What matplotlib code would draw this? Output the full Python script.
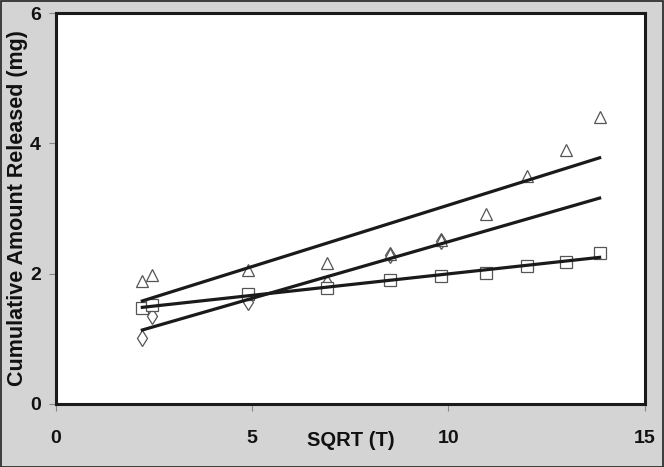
import numpy as np
import matplotlib.pyplot as plt
from matplotlib.patches import Rectangle

# sqrt(time) sampling points
sqrt_t = [2.2, 2.45, 4.9, 6.9, 8.5, 9.8, 10.95, 12.0, 13.0, 13.85]

# cumulative amount released (mg)
triangles = [1.88, 1.98, 2.06, 2.16, 2.30, 2.52, 2.91, 3.50, 3.90, 4.40]
squares = [1.47, 1.52, 1.69, 1.78, 1.90, 1.96, 2.01, 2.12, 2.18, 2.32]
# only the first points of this series are visible, the rest sit under other marks
diamond_t = [2.2, 2.45, 4.9, 6.9, 8.5, 9.8]
diamonds = [1.02, 1.35, 1.57, 1.85, 2.28, 2.50]
# linear fit of the diamond series as drawn (slope, intercept)
diamond_fit = (0.1738, 0.753)

fig = plt.figure(figsize=(6.64, 4.67), dpi=100, facecolor='#d4d4d4')
fig.patches.append(Rectangle((0.001, 0.001), 0.997, 0.996, transform=fig.transFigure,
                             fill=False, edgecolor='#222222', linewidth=1.2))
ax = fig.add_axes([0.0843, 0.135, 0.8867, 0.837])
ax.set_facecolor('white')

x = np.array(sqrt_t)
edge = '#555555'
ax.plot(diamond_t, diamonds, linestyle='none', marker='d', markersize=8,
        markerfacecolor='white', markeredgecolor=edge, markeredgewidth=0.9, zorder=2)
ax.plot(sqrt_t, squares, linestyle='none', marker='s', markersize=8,
        markerfacecolor='white', markeredgecolor=edge, markeredgewidth=0.9, zorder=3)
ax.plot(sqrt_t, triangles, linestyle='none', marker='^', markersize=8.5,
        markerfacecolor='white', markeredgecolor=edge, markeredgewidth=0.9, zorder=4)

xs = np.array([x.min(), x.max()])
for ys in (triangles, squares):
    k, b = np.polyfit(x, ys, 1)
    ax.plot(xs, k * xs + b, color='#1a1a1a', linewidth=2.3, zorder=5)
k, b = diamond_fit
ax.plot(xs, k * xs + b, color='#1a1a1a', linewidth=2.3, zorder=5)

ax.set_xlim(0, 15)
ax.set_ylim(0, 6)
ax.set_xticks([0, 5, 10, 15])
ax.set_yticks([0, 2, 4, 6])
for s in ax.spines.values():
    s.set_linewidth(2.2)
    s.set_color('#1a1a1a')
ax.tick_params(direction='out', length=5, width=0.8, color='#888888', labelsize=14)
ax.tick_params(axis='x', pad=14)
ax.tick_params(axis='y', pad=6)
for lab in ax.get_xticklabels() + ax.get_yticklabels():
    lab.set_fontweight('bold')
    lab.set_fontfamily('Liberation Sans')
    lab.set_color('#111111')

ax.set_xlabel('SQRT (T)', fontsize=14.5, fontweight='bold', family='Liberation Sans',
              color='#111111', labelpad=-12)
ax.set_ylabel('Cumulative Amount Released (mg)', fontsize=15.5, fontweight='bold',
              family='Liberation Sans', color='#111111', labelpad=1)

fig.savefig('out.png', dpi=100, facecolor=fig.get_facecolor())
